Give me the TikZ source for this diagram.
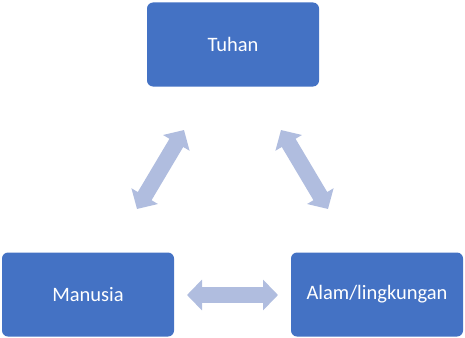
\documentclass[tikz,border=0pt]{standalone}
\usepackage{fontspec}
\setmainfont{Carlito}
\usetikzlibrary{arrows.meta}
\definecolor{boxblue}{HTML}{4472C4}
\definecolor{arrowblue}{HTML}{B0BDDF}
\begin{document}
\begin{tikzpicture}[x=1pt,y=-1pt,
  boxnode/.style={draw=none,fill=boxblue,rounded corners=6pt,minimum width=172pt,minimum height=84pt,
    text=white,font=\fontsize{20.5}{24}\selectfont,inner sep=0pt},
  blockarrow/.style={draw=arrowblue,line width=16pt,
    {Triangle[width=30pt,length=15pt]}-{Triangle[width=30pt,length=15pt]}}]
\useasboundingbox (0,0) rectangle (465,337);
\node[boxnode] (tuhan) at (233,44.5) {Tuhan};
\node[boxnode] (manusia) at (88,294.5) {Manusia};
\node[boxnode] (alam) at (377,294.5) {Alam/lingkungan};
\coordinate (l1) at (137,209);
\coordinate (l2) at (184,130);
\coordinate (r1) at (281,130);
\coordinate (r2) at (328,209);
\coordinate (h1) at (187,295);
\coordinate (h2) at (278,295);
\draw[blockarrow] (l1) -- (l2);
\draw[blockarrow] (r1) -- (r2);
\draw[blockarrow] (h1) -- (h2);
\end{tikzpicture}
\end{document}
